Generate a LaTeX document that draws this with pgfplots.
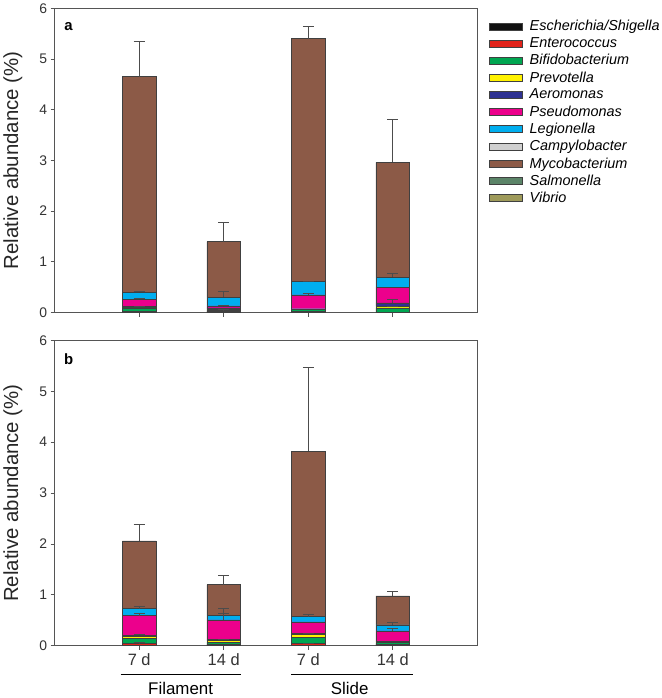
\documentclass[border=0pt]{standalone}
\usepackage{pgfplots}
\pgfplotsset{compat=1.18}
\usepackage{fontspec}
\setmainfont{Liberation Sans}

\definecolor{cEsch}{HTML}{111111}
\definecolor{cEnte}{HTML}{E2231A}
\definecolor{cBifi}{HTML}{00A651}
\definecolor{cPrev}{HTML}{FFF200}
\definecolor{cAero}{HTML}{2E3192}
\definecolor{cPseu}{HTML}{EC008C}
\definecolor{cLegi}{HTML}{00AEEF}
\definecolor{cCamp}{HTML}{D0D0D0}
\definecolor{cMyco}{HTML}{8C5A47}
\definecolor{cSalm}{HTML}{5B8468}
\definecolor{cVibr}{HTML}{9E9A5A}
\definecolor{axgray}{HTML}{555555}

\pgfplotsset{
  panel/.style={
    width=425bp, scale only axis,
    xmin=0, xmax=5, ymin=0, ymax=6,
    xtick={1,2,3,4}, ytick={0,1,...,6},
    tick align=outside, xtick pos=left, ytick pos=left,
    major tick length=4bp,
    axis line style={axgray, line width=0.7pt},
    tick style={axgray, line width=0.7pt},
    /pgf/number format/assume math mode=true,
    tick label style={font=\fontsize{14bp}{16bp}\selectfont, text=black!80},
    ylabel={Relative abundance (\%)},
    ylabel style={at={(axis description cs:-0.099,0.5)}, anchor=center,
      font=\fontsize{20.5bp}{22bp}\selectfont, text=black!85},
    clip=false,
  },
  stk/.style={ybar stacked, bar width=34bp},
  seg/.style={fill=#1, draw=black!75, line width=0.5pt},
  errs/.style={hide axis, width=425bp, scale only axis,
    xmin=0, xmax=5, ymin=0, ymax=6, clip=false},
  eb/.style={only marks, mark=*, mark size=0pt, mark options={draw=none, fill=none}, forget plot,
    error bars/.cd, y dir=plus, y explicit,
    error bar style={draw=black!70, line width=0.7pt},
    error mark options={rotate=90, mark size=5.5bp, draw=black!70, line width=0.7pt}},
}

\begin{document}
\begin{tikzpicture}
% ---------- panel a ----------
\begin{axis}[panel, stk, height=306bp, at={(0,0)}, anchor=south west,
  xticklabels={},
  legend style={at={(1,1)}, anchor=north west, xshift=12bp, yshift=-10bp,
    draw=none, fill=none, font=\itshape\fontsize{14.5bp}{16bp}\selectfont,
    row sep=1.4bp, inner sep=0pt},
  legend cell align=left,
  legend image code/.code={\draw[#1, draw=black!75] (0bp,-3.5bp) rectangle (33bp,3.5bp); \path (38bp,0);},
]
\addplot[seg=cEsch] coordinates {(1,0.01) (2,0.03) (3,0.02) (4,0.01)};
\addplot[seg=cEnte] coordinates {(1,0.01) (2,0.01) (3,0.01) (4,0.00)};
\addplot[seg=cBifi] coordinates {(1,0.07) (2,0.02) (3,0.03) (4,0.08)};
\addplot[seg=cPrev] coordinates {(1,0.01) (2,0.01) (3,0.005) (4,0.03)};
\addplot[seg=cAero] coordinates {(1,0.02) (2,0.02) (3,0.01) (4,0.07)};
\addplot[seg=cPseu] coordinates {(1,0.14) (2,0.04) (3,0.275) (4,0.31)};
\addplot[seg=cLegi] coordinates {(1,0.14) (2,0.17) (3,0.26) (4,0.20)};
\addplot[seg=cCamp] coordinates {(1,0) (2,0) (3,0) (4,0)};
\addplot[seg=cMyco] coordinates {(1,4.25) (2,1.10) (3,4.80) (4,2.26)};
\addplot[seg=cSalm] coordinates {(1,0) (2,0) (3,0) (4,0)};
\addplot[seg=cVibr] coordinates {(1,0) (2,0) (3,0) (4,0)};
\legend{Escherichia/Shigella, Enterococcus, Bifidobacterium, Prevotella,
  Aeromonas, Pseudomonas, Legionella, Campylobacter, Mycobacterium,
  Salmonella, Vibrio}
\node[font=\bfseries\fontsize{15bp}{17bp}\selectfont, anchor=center]
  at (rel axis cs:0.033,0.94) {a};
\end{axis}
\begin{axis}[errs, height=306bp, at={(0,0)}, anchor=south west]
\addplot[eb] coordinates {
  (1,4.65) +- (0,0.70) (1,0.40) +- (0,0.02) (1,0.26) +- (0,0.02) (1,0.11) +- (0,0.01)
  (2,1.40) +- (0,0.37) (2,0.30) +- (0,0.11) (2,0.12) +- (0,0.03) (2,0.05) +- (0,0.01)
  (3,5.40) +- (0,0.25) (3,0.61) +- (0,0.01) (3,0.35) +- (0,0.03)
  (4,2.96) +- (0,0.85) (4,0.70) +- (0,0.07) (4,0.19) +- (0,0.07) (4,0.12) +- (0,0.01)
};
\end{axis}

% ---------- panel b ----------
\begin{axis}[panel, stk, height=307bp, at={(0,-335bp)}, anchor=south west,
  xticklabels={7 d, 14 d, 7 d, 14 d},
  xticklabel style={font=\fontsize{16.5bp}{18bp}\selectfont},
]
\addplot[seg=cEsch] coordinates {(1,0.01) (2,0.03) (3,0.01) (4,0.03)};
\addplot[seg=cEnte] coordinates {(1,0.04) (2,0.00) (3,0.03) (4,0.00)};
\addplot[seg=cBifi] coordinates {(1,0.10) (2,0.04) (3,0.13) (4,0.03)};
\addplot[seg=cPrev] coordinates {(1,0.04) (2,0.03) (3,0.05) (4,0.02)};
\addplot[seg=cAero] coordinates {(1,0.02) (2,0.02) (3,0.02) (4,0.01)};
\addplot[seg=cPseu] coordinates {(1,0.38) (2,0.39) (3,0.23) (4,0.20)};
\addplot[seg=cLegi] coordinates {(1,0.14) (2,0.09) (3,0.10) (4,0.12)};
\addplot[seg=cCamp] coordinates {(1,0) (2,0) (3,0) (4,0)};
\addplot[seg=cMyco] coordinates {(1,1.33) (2,0.60) (3,3.25) (4,0.57)};
\addplot[seg=cSalm] coordinates {(1,0) (2,0) (3,0) (4,0)};
\addplot[seg=cVibr] coordinates {(1,0) (2,0) (3,0) (4,0)};
\node[font=\bfseries\fontsize{15bp}{17bp}\selectfont, anchor=center]
  at (rel axis cs:0.033,0.94) {b};
\draw[black, line width=0.8pt] ([yshift=-29bp]axis cs:0.78,0) -- ([yshift=-29bp]axis cs:2.21,0);
\draw[black, line width=0.8pt] ([yshift=-29bp]axis cs:2.80,0) -- ([yshift=-29bp]axis cs:4.24,0);
\node[font=\fontsize{17bp}{19bp}\selectfont] at ([yshift=-43bp]axis cs:1.49,0) {Filament};
\node[font=\fontsize{17bp}{19bp}\selectfont] at ([yshift=-43bp]axis cs:3.49,0) {Slide};
\end{axis}
\begin{axis}[errs, height=307bp, at={(0,-335bp)}, anchor=south west]
\addplot[eb] coordinates {
  (1,2.06) +- (0,0.33) (1,0.73) +- (0,0.05) (1,0.59) +- (0,0.05) (1,0.22) +- (0,0.01) (1,0.05) +- (0,0.01)
  (2,1.20) +- (0,0.18) (2,0.60) +- (0,0.13) (2,0.51) +- (0,0.12) (2,0.11) +- (0,0.02)
  (3,3.82) +- (0,1.66) (3,0.57) +- (0,0.04) (3,0.23) +- (0,0.02) (3,0.04) +- (0,0.01)
  (4,0.98) +- (0,0.09) (4,0.41) +- (0,0.04) (4,0.29) +- (0,0.06)
};
\end{axis}
\end{tikzpicture}
\end{document}
